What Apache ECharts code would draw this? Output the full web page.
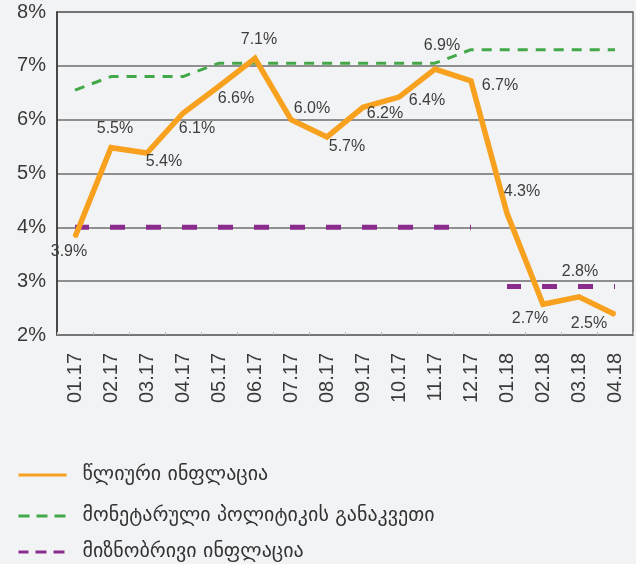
<!DOCTYPE html>
<html>
<head>
<meta charset="utf-8">
<script src="https://cdn.jsdelivr.net/npm/echarts@6/dist/echarts.min.js"></script>
<style>
    html, body { margin: 0; padding: 0; background: #f2f3f5; }
    #content { width: 636px; height: 564px; }
</style>
</head>
<body>
<div id="content"></div>
<script>
var months = ['01.17', '02.17', '03.17', '04.17', '05.17', '06.17', '07.17', '08.17',
    '09.17', '10.17', '11.17', '12.17', '01.18', '02.18', '03.18', '04.18'];
var yTicks = [2, 3, 4, 5, 6, 7, 8];

// წლიური ინფლაცია, % (line as drawn) and the labels printed next to it
var inflation = [3.82, 5.48, 5.38, 6.12, 6.62, 7.14, 6.0, 5.68, 6.23, 6.42, 6.94, 6.72, 4.26, 2.57, 2.71, 2.38];
var inflationLabels = ['3.9%', '5.5%', '5.4%', '6.1%', '6.6%', '7.1%', '6.0%', '5.7%',
    '6.2%', '6.4%', '6.9%', '6.7%', '4.3%', '2.7%', '2.8%', '2.5%'];

// მონეტარული პოლიტიკის განაკვეთი
var policyRate = [6.55, 6.8, 6.8, 6.8, 7.05, 7.05, 7.05, 7.05, 7.05, 7.05, 7.05, 7.3, 7.3, 7.3, 7.3, 7.3];

// მიზნობრივი ინფლაცია (2017 and 2018 targets)
var target2017 = [4, 4, 4, 4, 4, 4, 4, 4, 4, 4, 4, 4, null, null, null, null];
var target2018 = [null, null, null, null, null, null, null, null, null, null, null, null, 2.9, 2.9, 2.9, 2.9];

var names = ['წლიური ინფლაცია', 'მონეტარული პოლიტიკის განაკვეთი', 'მიზნობრივი ინფლაცია'];

// label placement around each point, px
var labelOffsets = [[-6, 15], [4, -19], [17, 9], [14, 15], [17, 12], [4, -19], [21, -11], [20, 10],
    [22, 6], [28, 4], [7, -23], [29, 5], [15, -22], [-13, 14], [1, -25], [-26, 9]];

var myChart = echarts.init(document.getElementById('content'));

var inflationData = inflation.map(function (v, i) {
    return {
        value: v,
        label: {
            formatter: inflationLabels[i],
            offset: labelOffsets[i]
        }
    };
});

var legendText = {
    fontFamily: 'DejaVu Sans',
    fontSize: 20,
    color: '#333',
    padding: [0, 0, 0, 11]
};
var hiddenSymbol = {color: 'rgba(0,0,0,0)', borderWidth: 0, opacity: 0};

var option = {
    backgroundColor: '#f2f3f5',
    animation: false,
    grid: {
        left: 57,
        right: 3,
        top: 12,
        bottom: 229,
        show: true,
        borderColor: '#666',
        borderWidth: 1.5,
        backgroundColor: 'transparent'
    },
    legend: [
        {
            left: 12, top: 460, itemWidth: 48, itemHeight: 14,
            data: [{name: names[0], lineStyle: {width: 3}, itemStyle: hiddenSymbol}],
            textStyle: legendText
        },
        {
            left: 12, top: 501, itemWidth: 48, itemHeight: 14,
            data: [{name: names[1], lineStyle: {width: 3, type: [11, 7]}, itemStyle: hiddenSymbol}],
            textStyle: legendText
        },
        {
            left: 12, top: 537, itemWidth: 48, itemHeight: 14,
            data: [{name: names[2], lineStyle: {width: 3, type: [11, 7]}, itemStyle: hiddenSymbol}],
            textStyle: legendText
        }
    ],
    xAxis: {
        type: 'category',
        data: months,
        boundaryGap: true,
        axisLine: {lineStyle: {color: '#777', width: 1.5}},
        axisTick: {show: true, inside: true, length: 3, lineStyle: {color: '#bbb'}},
        axisLabel: {
            rotate: 90,
            margin: 18,
            fontFamily: 'Liberation Sans',
            fontSize: 20,
            color: '#3a3a3a'
        }
    },
    yAxis: {
        type: 'value',
        min: yTicks[0],
        max: yTicks[yTicks.length - 1],
        interval: 1,
        axisLine: {show: true, lineStyle: {color: '#333', width: 1.5}},
        axisTick: {show: false},
        axisLabel: {
            formatter: '{value}%',
            margin: 11,
            fontFamily: 'Liberation Sans',
            fontSize: 20,
            color: '#3a3a3a'
        },
        splitLine: {lineStyle: {color: '#6e6e6e', width: 1.5}}
    },
    series: [
        {
            name: names[1],
            type: 'line',
            data: policyRate,
            symbol: 'none',
            z: 3,
            lineStyle: {color: '#43a948', width: 3, type: [10, 8]},
            itemStyle: {color: '#43a948'}
        },
        {
            name: names[2],
            type: 'line',
            data: target2017,
            symbol: 'none',
            z: 2,
            lineStyle: {color: '#8a2b8e', width: 5, type: [15, 21], dashOffset: 1},
            itemStyle: {color: '#8a2b8e'}
        },
        {
            name: names[2],
            type: 'line',
            data: target2018,
            symbol: 'none',
            z: 2,
            lineStyle: {color: '#8a2b8e', width: 5, type: [15, 21], dashOffset: 1},
            itemStyle: {color: '#8a2b8e'}
        },
        {
            name: names[0],
            type: 'line',
            data: inflationData,
            symbol: 'circle',
            symbolSize: 2,
            showSymbol: true,
            z: 4,
            lineStyle: {color: '#f7a11f', width: 5.5, join: 'miter'},
            itemStyle: {color: '#f7a11f'},
            label: {
                show: true,
                position: 'inside',
                fontFamily: 'Liberation Sans',
                fontSize: 16,
                color: '#3d3d3d',
                textBorderWidth: 0
            }
        }
    ]
};
myChart.setOption(option);
</script>
</body>
</html>
